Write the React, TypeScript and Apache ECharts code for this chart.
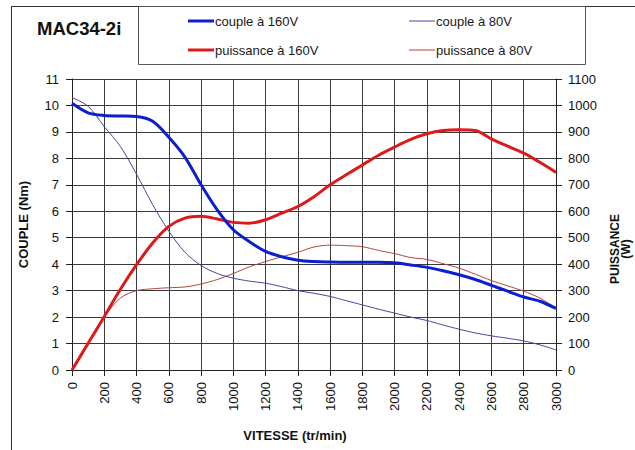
import React, { useEffect, useRef } from "react";
import * as echarts from "echarts";

const speeds = [0, 100, 200, 300, 400, 500, 600, 700, 800, 900, 1000, 1100, 1200, 1300, 1400, 1500, 1600, 1700, 1800, 1900, 2000, 2100, 2200, 2300, 2400, 2500, 2600, 2700, 2800, 2900, 3000];

const couple160 = [10.08, 9.72, 9.62, 9.6, 9.58, 9.4, 8.8, 8.05, 7.0, 6.05, 5.3, 4.85, 4.48, 4.28, 4.15, 4.1, 4.08, 4.07, 4.07, 4.07, 4.05, 3.97, 3.88, 3.75, 3.6, 3.42, 3.2, 2.98, 2.76, 2.6, 2.33];
const couple80 = [10.3, 9.97, 9.2, 8.45, 7.4, 6.25, 5.25, 4.45, 3.95, 3.65, 3.47, 3.36, 3.28, 3.15, 3.0, 2.9, 2.78, 2.62, 2.46, 2.3, 2.15, 2.0, 1.87, 1.7, 1.54, 1.4, 1.29, 1.2, 1.1, 0.95, 0.76];
const puissance160 = [0, 101, 202, 305, 398, 480, 543, 574, 581, 571, 558, 555, 568, 593, 618, 655, 700, 738, 775, 812, 843, 872, 893, 905, 908, 905, 874, 846, 820, 785, 747];
const puissance80 = [0, 101, 200, 272, 300, 307, 311, 314, 325, 342, 365, 390, 410, 428, 445, 465, 472, 470, 466, 452, 440, 425, 418, 402, 385, 362, 338, 318, 298, 272, 234];

const seriesNames = ["couple à 160V", "couple à 80V", "puissance à 160V", "puissance à 80V"];
const xTickValues = [0, 3000, 200];
const leftTicks = [0, 11, 1];
const rightTicks = [0, 1100, 100];

const FONT = "'Liberation Sans', Arial, sans-serif";
const C160 = "#0b1ed0";
const C80 = "#4646a4";
const P160 = "#dc1a1a";
const P80 = "#b04444";
const GRIDC = "#3a3a3a";

const pairs = (ys: number[]) => speeds.map((x, i) => [x, ys[i]]);
const plain = (v: number) => String(v);

export default function App() {
  const ref = useRef<HTMLDivElement>(null);
  useEffect(() => {
    if (!ref.current) return;
    const chart = echarts.init(ref.current, null, { renderer: "svg" });
    const legendEntry = (name: string, color: string, width: number, x: number, y: number) => [
      { type: "line", shape: { x1: x, y1: y, x2: x + 26, y2: y }, style: { stroke: color, lineWidth: width } },
      {
        type: "text",
        x: x + 27,
        y,
        style: { text: name, fontFamily: FONT, fontSize: 13, fill: "#1a1a1a", align: "left", verticalAlign: "middle" },
      },
    ];
    chart.setOption({
      animation: false,
      backgroundColor: "#ffffff",
      textStyle: { fontFamily: FONT },
      title: {
        text: "MAC34-2i",
        left: 37,
        top: 19,
        padding: 0,
        textStyle: { fontFamily: FONT, fontSize: 18.5, fontWeight: "bold", color: "#111" },
      },
      graphic: [
        { type: "line", shape: { x1: 11.5, y1: 6, x2: 11.5, y2: 450 }, style: { stroke: "#333", lineWidth: 1 } },
        { type: "line", shape: { x1: 11, y1: 6.5, x2: 635, y2: 6.5 }, style: { stroke: "#333", lineWidth: 1 } },
        { type: "rect", shape: { x: 138.5, y: 6.5, width: 447, height: 58 }, style: { fill: "none", stroke: "#555", lineWidth: 1 } },
        ...legendEntry(seriesNames[0], C160, 3, 188, 21),
        ...legendEntry(seriesNames[1], C80, 1, 409, 21),
        ...legendEntry(seriesNames[2], P160, 3, 188, 50),
        ...legendEntry(seriesNames[3], P80, 1, 409, 50),
        {
          type: "text",
          x: 295,
          y: 435,
          style: { text: "VITESSE (tr/min)", fontFamily: FONT, fontSize: 13, fontWeight: "bold", fill: "#111", align: "center", verticalAlign: "middle" },
        },
        {
          type: "text",
          x: 620,
          y: 249,
          rotation: Math.PI / 2,
          style: { text: "PUISSANCE\n(W)", fontFamily: FONT, fontSize: 12, fontWeight: "bold", fill: "#111", align: "center", verticalAlign: "middle", lineHeight: 11 },
        },
      ],
      grid: { left: 72, right: 79, top: 79, bottom: 80, containLabel: false, outerBoundsMode: "none" },
      xAxis: {
        type: "value",
        min: xTickValues[0],
        max: xTickValues[1],
        interval: xTickValues[2],
        axisLine: { show: true, lineStyle: { color: "#222", width: 1 } },
        axisTick: { show: true, inside: false, length: 6, lineStyle: { color: "#222" } },
        axisLabel: { rotate: 90, margin: 12, fontSize: 13, fontFamily: FONT, color: "#111", formatter: plain },
        splitLine: { show: true, lineStyle: { color: GRIDC, width: 1 } },
      },
      yAxis: [
        {
          type: "value",
          min: leftTicks[0],
          max: leftTicks[1],
          interval: leftTicks[2],
          name: "COUPLE (Nm)",
          nameLocation: "middle",
          nameGap: 42,
          nameTextStyle: { fontFamily: FONT, fontSize: 13, fontWeight: "bold", color: "#111" },
          axisLine: { show: true, lineStyle: { color: "#222", width: 1 } },
          axisTick: { show: true, inside: false, length: 6, lineStyle: { color: "#222" } },
          axisLabel: { margin: 13, fontSize: 13, fontFamily: FONT, color: "#111", formatter: plain },
          splitLine: { show: true, lineStyle: { color: GRIDC, width: 1 } },
        },
        {
          type: "value",
          position: "right",
          min: rightTicks[0],
          max: rightTicks[1],
          interval: rightTicks[2],
          axisLine: { show: true, lineStyle: { color: "#222", width: 1 } },
          axisTick: { show: true, inside: false, length: 6, lineStyle: { color: "#222" } },
          axisLabel: { margin: 12, fontSize: 13, fontFamily: FONT, color: "#111", formatter: plain },
          splitLine: { show: false },
        },
      ],
      series: [
        { name: seriesNames[3], type: "line", yAxisIndex: 1, data: pairs(puissance80), symbol: "none", smooth: 0.3, lineStyle: { color: P80, width: 1 }, itemStyle: { color: P80 } },
        { name: seriesNames[1], type: "line", yAxisIndex: 0, data: pairs(couple80), symbol: "none", smooth: 0.3, lineStyle: { color: C80, width: 1 }, itemStyle: { color: C80 } },
        { name: seriesNames[2], type: "line", yAxisIndex: 1, data: pairs(puissance160), symbol: "none", smooth: 0.3, lineStyle: { color: P160, width: 3 }, itemStyle: { color: P160 } },
        { name: seriesNames[0], type: "line", yAxisIndex: 0, data: pairs(couple160), symbol: "none", smooth: 0.3, lineStyle: { color: C160, width: 3 }, itemStyle: { color: C160 } },
      ],
    });
    return () => chart.dispose();
  }, []);
  return (
    <div style={{ position: "absolute", left: 0, top: 0, width: 635, height: 450, background: "#fff" }}>
      <div ref={ref} style={{ width: 635, height: 450 }} />
    </div>
  );
}
